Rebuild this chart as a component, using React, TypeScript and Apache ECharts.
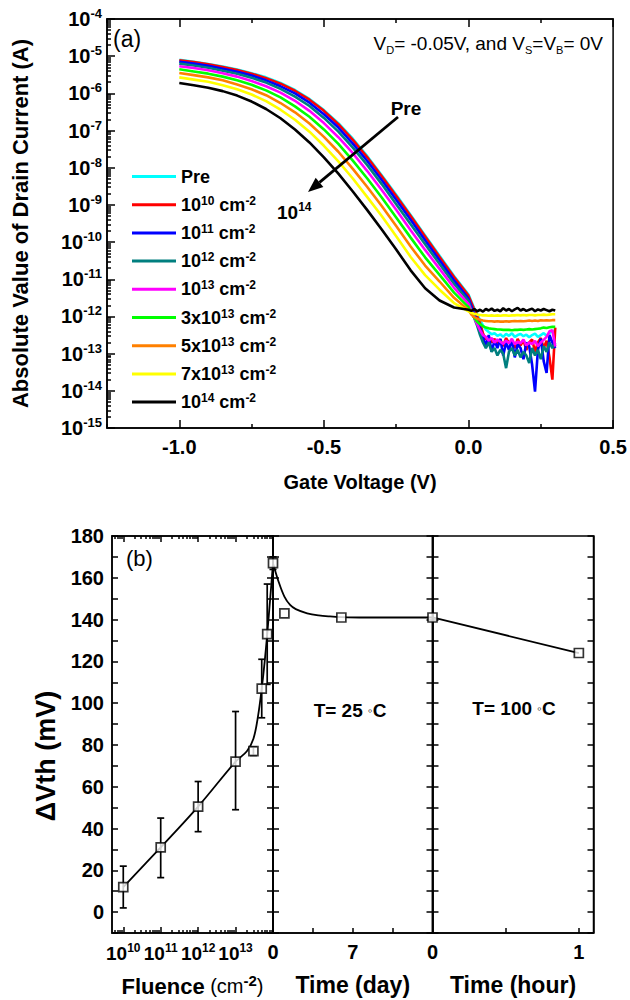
import React, { useEffect, useRef } from 'react';
import * as echarts from 'echarts';

const FONT = '"Liberation Sans", Arial, Helvetica, sans-serif';

// ---------- Panel (a): drain current vs gate voltage ----------
const gateVoltage = [
  -1.0, -0.95, -0.9, -0.85, -0.8, -0.75, -0.7, -0.65, -0.6, -0.55, -0.5, -0.45, -0.4, -0.35, -0.3, -0.25, -0.2, -0.15, -0.1, -0.05, 0.0,
  0.01, 0.02, 0.03, 0.04, 0.05, 0.06, 0.07, 0.08, 0.09, 0.1, 0.11, 0.12, 0.13, 0.14, 0.15, 0.16, 0.17, 0.18, 0.19, 0.2,
  0.21, 0.22, 0.23, 0.24, 0.25, 0.26, 0.27, 0.28, 0.29, 0.3,
];

// log10 of |Id| (A)
const logPre = [
  -5.10, -5.15, -5.21, -5.28, -5.36, -5.46, -5.57, -5.72, -5.91, -6.15, -6.45, -6.80, -7.22, -7.69, -8.20, -8.73, -9.27, -9.82, -10.37, -10.91, -11.41,
  -11.60, -11.78, -11.95, -12.10, -12.24, -12.35, -12.42, -12.48, -12.45, -12.52, -12.48, -12.55, -12.47, -12.52, -12.45, -12.55, -12.50, -12.47, -12.53, -12.49,
  -12.56, -12.50, -12.46, -12.55, -12.50, -12.45, -12.52, -12.44, -12.40, -12.38,
];
const logE10 = [
  -5.11, -5.16, -5.22, -5.29, -5.37, -5.47, -5.59, -5.74, -5.93, -6.17, -6.47, -6.83, -7.25, -7.72, -8.23, -8.76, -9.30, -9.85, -10.40, -10.94, -11.44,
  -11.63, -11.82, -12.00, -12.18, -12.45, -12.62, -12.55, -12.70, -12.60, -12.75, -12.62, -12.80, -12.58, -12.72, -12.66, -12.85, -12.60, -12.78, -12.64, -12.90,
  -12.70, -12.62, -12.95, -12.70, -12.58, -12.85, -12.65, -13.10, -13.70, -12.30,
];
const logE11 = [
  -5.15, -5.20, -5.26, -5.34, -5.42, -5.52, -5.65, -5.81, -6.00, -6.25, -6.56, -6.92, -7.35, -7.82, -8.33, -8.86, -9.40, -9.95, -10.49, -11.03, -11.52,
  -11.72, -11.92, -12.10, -12.30, -12.55, -12.80, -12.50, -12.95, -12.65, -12.85, -12.60, -13.05, -12.70, -12.90, -12.62, -13.10, -12.75, -12.85, -13.15, -12.70,
  -12.80, -13.30, -14.02, -12.90, -12.60, -13.20, -13.52, -12.50, -12.70, -12.85,
];
const logE12 = [
  -5.20, -5.25, -5.31, -5.39, -5.47, -5.58, -5.71, -5.88, -6.09, -6.34, -6.66, -7.03, -7.46, -7.93, -8.44, -8.98, -9.52, -10.06, -10.59, -11.12, -11.58,
  -11.82, -12.04, -12.25, -12.50, -12.70, -12.85, -12.70, -12.95, -12.85, -13.05, -12.90, -13.00, -13.39, -12.95, -12.85, -13.05, -12.90, -13.10, -12.95, -13.05,
  -13.25, -12.85, -13.05, -12.90, -13.15, -12.80, -12.95, -12.70, -12.85, -12.70,
];
const logE13 = [
  -5.27, -5.32, -5.38, -5.46, -5.55, -5.67, -5.81, -5.98, -6.20, -6.47, -6.80, -7.18, -7.61, -8.09, -8.60, -9.13, -9.68, -10.21, -10.72, -11.23, -11.66,
  -11.86, -12.04, -12.21, -12.37, -12.50, -12.55, -12.65, -12.58, -12.70, -12.62, -12.68, -12.74, -12.65, -12.72, -12.60, -12.75, -12.68, -12.72, -12.62, -12.78,
  -12.70, -12.74, -12.66, -12.80, -12.70, -12.63, -12.55, -12.40, -12.37, -12.81,
];
const log3E13 = [
  -5.35, -5.41, -5.47, -5.55, -5.65, -5.77, -5.92, -6.11, -6.35, -6.63, -6.97, -7.36, -7.81, -8.29, -8.80, -9.34, -9.88, -10.41, -10.88, -11.36, -11.75,
  -11.91, -12.04, -12.14, -12.21, -12.26, -12.30, -12.32, -12.33, -12.34, -12.35, -12.35, -12.36, -12.36, -12.36, -12.37, -12.36, -12.36, -12.35, -12.36, -12.35,
  -12.34, -12.35, -12.34, -12.33, -12.32, -12.30, -12.31, -12.29, -12.28, -12.28,
];
const log5E13 = [
  -5.45, -5.51, -5.57, -5.65, -5.76, -5.89, -6.05, -6.26, -6.51, -6.81, -7.17, -7.57, -8.03, -8.52, -9.03, -9.57, -10.12, -10.63, -11.06, -11.50, -11.83,
  -11.95, -12.02, -12.06, -12.09, -12.11, -12.12, -12.13, -12.13, -12.14, -12.13, -12.14, -12.14, -12.13, -12.14, -12.13, -12.12, -12.13, -12.12, -12.13, -12.12,
  -12.11, -12.12, -12.11, -12.12, -12.10, -12.11, -12.10, -12.11, -12.10, -12.10,
];
const log7E13 = [
  -5.57, -5.63, -5.69, -5.78, -5.89, -6.03, -6.21, -6.44, -6.71, -7.03, -7.41, -7.83, -8.29, -8.79, -9.30, -9.84, -10.40, -10.89, -11.28, -11.64, -11.86,
  -11.90, -11.93, -11.95, -11.96, -11.97, -11.97, -11.98, -11.97, -11.98, -11.97, -11.98, -11.97, -11.97, -11.98, -11.97, -11.97, -11.96, -11.97, -11.96, -11.97,
  -11.96, -11.96, -11.97, -11.96, -11.96, -11.95, -11.96, -11.95, -11.94, -11.94,
];
const logE14 = [
  -5.72, -5.78, -5.85, -5.94, -6.06, -6.22, -6.42, -6.67, -6.97, -7.32, -7.72, -8.16, -8.64, -9.14, -9.66, -10.20, -10.76, -11.24, -11.57, -11.76, -11.82,
  -11.85, -11.80, -11.86, -11.82, -11.87, -11.80, -11.84, -11.79, -11.85, -11.82, -11.86, -11.78, -11.84, -11.80, -11.86, -11.81, -11.77, -11.84, -11.80, -11.85,
  -11.82, -11.79, -11.86, -11.81, -11.84, -11.80, -11.83, -11.86, -11.82, -11.84,
];

const curveNames = ['Pre', '1E10', '1E11', '1E12', '1E13', '3E13', '5E13', '7E13', '1E14'];
const curveLogs = [logPre, logE10, logE11, logE12, logE13, log3E13, log5E13, log7E13, logE14];
const curveColors = ['#00FFFF', '#FF0000', '#0000FF', '#007F7F', '#FF00FF', '#00FF00', '#FF8000', '#FFFF00', '#000000'];
const legendLabels = [
  '{b|Pre}',
  '{b|10}{s|10}{b| cm}{s|-2}',
  '{b|10}{s|11}{b| cm}{s|-2}',
  '{b|10}{s|12}{b| cm}{s|-2}',
  '{b|10}{s|13}{b| cm}{s|-2}',
  '{b|3x10}{s|13}{b| cm}{s|-2}',
  '{b|5x10}{s|13}{b| cm}{s|-2}',
  '{b|7x10}{s|13}{b| cm}{s|-2}',
  '{b|10}{s|14}{b| cm}{s|-2}',
];
const currentDecades = [1e-15, 1e-14, 1e-13, 1e-12, 1e-11, 1e-10, 1e-9, 1e-8, 1e-7, 1e-6, 1e-5, 1e-4];
const gateTickLabels = [-1.0, -0.5, 0.0, 0.5];
const gateMinorTicks = [-1.25, -0.75, -0.25, 0.25];

// ---------- Panel (b): threshold voltage shift ----------
const fluence = [1e10, 1e11, 1e12, 1e13, 3e13, 5e13, 7e13, 1e14];
const dVthFluence = [12, 31, 50.5, 72, 77, 107, 133, 167];
const dVthErrLow = [2, 16.5, 38.5, 49, 75, 93, 109, 164];
const dVthErrHigh = [22, 45, 62.5, 96, 79, 121, 157, 170];
const fitFluence = [1e10, 1e11, 1e12, 1e13, 2e13, 3e13, 4e13, 5e13, 6e13, 7e13, 8.5e13, 1e14];
const fitFluenceDVth = [12, 31, 50.5, 72, 77, 83, 94, 107, 120, 133, 151, 167];
const annealDays = [1, 6, 14];
const dVthDays = [143, 141, 141];
const fitDays = [0, 0.5, 1, 1.5, 2, 3, 4, 5, 6, 8, 10, 14];
const fitDaysDVth = [167, 158, 151, 147, 145, 143, 142, 141.5, 141.2, 141, 141, 141];
const annealHours = [0, 1];
const dVthHours = [141, 124];
const fluenceDecades = [1e10, 1e11, 1e12, 1e13, 1e14];
const fluenceLabelValues = [1e10, 1e11, 1e12, 1e13];
const dayLabels = [0, 7];
const dayTicks = [3.5, 7, 10.5];
const hourLabels = [0, 1];
const hourTicks = [0.5, 1];

function minorLogTicks(decades: number[], lo: number, hi: number) {
  const out: number[] = [];
  const all = [decades[0] / 10, ...decades];
  all.forEach((d) => {
    for (let k = 2; k <= 9; k++) {
      const v = k * d;
      if (v > lo && v < hi) out.push(v);
    }
  });
  return out;
}

const AX = { color: '#000', width: 1.5 };
const bold = (size: number) => ({ fontFamily: FONT, fontWeight: 'bold' as const, fontSize: size, color: '#000' });

export default function App() {
  const ref = useRef<HTMLDivElement>(null);
  useEffect(() => {
    if (!ref.current) return;
    const chart = echarts.init(ref.current, undefined, { renderer: 'svg' });

    const supRich = (base: number, sup: number, lh: number) => ({
      b: { ...bold(base), lineHeight: lh },
      s: { ...bold(sup), lineHeight: sup + 1, verticalAlign: 'top' },
      r: { fontFamily: FONT, fontSize: base - 2, color: '#000', lineHeight: lh },
    });

    const fluenceMinor = minorLogTicks(fluenceDecades, 5.0e9, 1e14);
    const currentMinor = minorLogTicks(currentDecades, 1e-15, 1e-4);

    const baseX = (grid: number, extra: any) => ({
      gridIndex: grid,
      splitLine: { show: false },
      axisLine: { show: false, onZero: false, lineStyle: AX },
      axisLabel: { show: false },
      ...extra,
    });
    const line = { show: true, onZero: false, lineStyle: AX };

    const xAxis: any[] = [
      baseX(0, {
        type: 'value', min: -1.25, max: 0.5, position: 'bottom',
        axisLine: line,
        axisTick: { inside: true, length: 8, customValues: gateTickLabels, lineStyle: AX },
        axisLabel: {
          show: true, customValues: gateTickLabels, margin: 9,
          formatter: (v: number) => v.toFixed(1), ...bold(20),
        },
        name: 'Gate Voltage (V)', nameLocation: 'middle', nameGap: 44, nameTextStyle: bold(20),
      }),
      baseX(0, {
        type: 'value', min: -1.25, max: 0.5, position: 'bottom',
        axisTick: { inside: true, length: 4, customValues: gateMinorTicks, lineStyle: AX },
      }),
      baseX(0, {
        type: 'value', min: -1.25, max: 0.5, position: 'top',
        axisLine: line,
        axisTick: { inside: true, length: 8, customValues: gateTickLabels, lineStyle: AX },
      }),
      baseX(0, {
        type: 'value', min: -1.25, max: 0.5, position: 'top',
        axisTick: { inside: true, length: 4, customValues: gateMinorTicks, lineStyle: AX },
      }),
      baseX(1, {
        type: 'log', logBase: 10, min: 5.0e9, max: 1e14, position: 'bottom',
        axisLine: line,
        axisTick: { inside: true, length: 6, customValues: fluenceDecades, lineStyle: AX },
        axisLabel: {
          show: true, customValues: fluenceLabelValues, margin: 9,
          formatter: (v: number) => `{b|10}{s|${Math.round(Math.log10(v))}}`,
          rich: supRich(19, 12, 22),
        },
        name: '{b|Fluence}{r| (cm}{s|-2}{r|)}', nameLocation: 'middle', nameGap: 40,
        nameTextStyle: { rich: { b: { ...bold(22), lineHeight: 26 }, r: { fontFamily: FONT, fontSize: 20, color: '#000', lineHeight: 26 }, s: { ...bold(15), lineHeight: 14, verticalAlign: 'top' } } },
      }),
      baseX(1, {
        type: 'log', logBase: 10, min: 5.0e9, max: 1e14, position: 'bottom',
        axisTick: { inside: true, length: 3, customValues: fluenceMinor, lineStyle: AX },
      }),
      baseX(1, {
        type: 'log', logBase: 10, min: 5.0e9, max: 1e14, position: 'top',
        axisLine: line,
        axisTick: { inside: true, length: 6, customValues: fluenceDecades, lineStyle: AX },
      }),
      baseX(1, {
        type: 'log', logBase: 10, min: 5.0e9, max: 1e14, position: 'top',
        axisTick: { inside: true, length: 3, customValues: fluenceMinor, lineStyle: AX },
      }),
      baseX(2, {
        type: 'value', min: 0, max: 14, position: 'bottom',
        axisLine: line,
        axisTick: { inside: true, length: 5, customValues: dayTicks, lineStyle: AX },
        axisLabel: { show: true, customValues: dayLabels, margin: 9, showMinLabel: true, ...bold(20) },
        name: 'Time (day)', nameLocation: 'middle', nameGap: 40, nameTextStyle: bold(23),
      }),
      baseX(3, {
        type: 'value', min: 0, max: 1.1, position: 'bottom',
        axisLine: line,
        axisTick: { inside: true, length: 5, customValues: hourTicks, lineStyle: AX },
        axisLabel: { show: true, customValues: hourLabels, margin: 9, showMinLabel: true, ...bold(20) },
        name: 'Time (hour)', nameLocation: 'middle', nameGap: 40, nameTextStyle: bold(23),
      }),
    ];

    const dv = (grid: number, pos: 'left' | 'right', labels: boolean) => ({
      gridIndex: grid, type: 'value', min: -10, max: 180, interval: 10, position: pos,
      splitLine: { show: false },
      axisLine: line,
      axisTick: { inside: true, length: 6, lineStyle: AX },
      axisLabel: labels
        ? { show: true, margin: 8, ...bold(20), formatter: (v: number) => (v >= 0 && v % 20 === 0 ? String(v) : '') }
        : { show: false },
    });

    const yAxis: any[] = [
      {
        gridIndex: 0, type: 'log', logBase: 10, min: 1e-15, max: 1e-4, position: 'left',
        splitLine: { show: false },
        axisLine: line,
        axisTick: { inside: true, length: 8, customValues: currentDecades, lineStyle: AX },
        axisLabel: {
          show: true, customValues: currentDecades, margin: 5,
          formatter: (v: number) => `{b|10}{s|${Math.round(Math.log10(v))}}`,
          rich: supRich(20, 13, 24),
        },
        name: 'Absolute Value of Drain Current (A)', nameLocation: 'middle', nameGap: 76,
        nameTextStyle: bold(22),
      },
      {
        gridIndex: 0, type: 'log', logBase: 10, min: 1e-15, max: 1e-4, position: 'left',
        splitLine: { show: false }, axisLine: { show: false, onZero: false }, axisLabel: { show: false },
        axisTick: { inside: true, length: 4, customValues: currentMinor, lineStyle: AX },
      },
      dv(1, 'left', true),
      dv(1, 'right', false),
      dv(2, 'left', false),
      dv(2, 'right', false),
      dv(3, 'left', false),
      dv(3, 'right', false),
    ];

    const squareStyle = { color: '#fff', borderColor: '#000', borderWidth: 1.7 };

    const series: any[] = curveNames.map((name, i) => ({
      type: 'line', name, xAxisIndex: 0, yAxisIndex: 0,
      data: gateVoltage.map((v, j) => [v, Math.pow(10, curveLogs[i][j])]),
      symbol: 'none', showSymbol: false,
      lineStyle: { color: curveColors[i], width: 2.6 },
      itemStyle: { color: curveColors[i] },
      z: 2 + i,
    }));

    series.push(
      {
        type: 'custom', name: 'errFluence', xAxisIndex: 4, yAxisIndex: 2,
        data: fluence.map((f, i) => [f, dVthErrLow[i], dVthErrHigh[i]]),
        encode: { x: 0, y: [1, 2] }, clip: false, z: 3,
        renderItem: (_p: any, api: any) => {
          const x = api.value(0);
          const lo = api.coord([x, api.value(1)]);
          const hi = api.coord([x, api.value(2)]);
          const w = 3.5;
          const st = { stroke: '#000', lineWidth: 1.7 };
          return {
            type: 'group',
            children: [
              { type: 'line', shape: { x1: lo[0], y1: lo[1], x2: hi[0], y2: hi[1] }, style: st },
              { type: 'line', shape: { x1: lo[0] - w, y1: lo[1], x2: lo[0] + w, y2: lo[1] }, style: st },
              { type: 'line', shape: { x1: hi[0] - w, y1: hi[1], x2: hi[0] + w, y2: hi[1] }, style: st },
            ],
          };
        },
      },
      {
        type: 'line', name: 'fitFluence', xAxisIndex: 4, yAxisIndex: 2,
        data: fitFluence.map((f, i) => [f, fitFluenceDVth[i]]),
        smooth: 0.35, symbol: 'none', lineStyle: { color: '#000', width: 1.8 }, z: 3, clip: false,
      },
      {
        type: 'scatter', name: 'dVthFluence', xAxisIndex: 4, yAxisIndex: 2,
        data: fluence.map((f, i) => [f, dVthFluence[i]]),
        symbol: 'rect', symbolSize: 9, itemStyle: squareStyle, clip: false, z: 6,
      },
      {
        type: 'line', name: 'fitDays', xAxisIndex: 8, yAxisIndex: 4,
        data: fitDays.map((d, i) => [d, fitDaysDVth[i]]),
        smooth: 0.35, symbol: 'none', lineStyle: { color: '#000', width: 1.8 }, z: 3, clip: false,
      },
      {
        type: 'scatter', name: 'dVthDays', xAxisIndex: 8, yAxisIndex: 4,
        data: annealDays.map((d, i) => [d, dVthDays[i]]),
        symbol: 'rect', symbolSize: 9, itemStyle: squareStyle, clip: false, z: 6,
      },
      {
        type: 'line', name: 'lineHours', xAxisIndex: 9, yAxisIndex: 6,
        data: annealHours.map((h, i) => [h, dVthHours[i]]),
        symbol: 'none', lineStyle: { color: '#000', width: 1.8 }, z: 3,
      },
      {
        type: 'scatter', name: 'dVthHours', xAxisIndex: 9, yAxisIndex: 6,
        data: annealHours.slice(1).map((h, i) => [h, dVthHours[i + 1]]),
        symbol: 'rect', symbolSize: 9, itemStyle: squareStyle, clip: false, z: 6,
      },
    );

    const tail = [398, 117];
    const tip = [308, 192];
    const dx = tip[0] - tail[0], dy = tip[1] - tail[1];
    const len = Math.hypot(dx, dy);
    const ux = dx / len, uy = dy / len;
    const headL = 15, headW = 6;
    const bx = tip[0] - ux * headL, by = tip[1] - uy * headL;

    const txt = (x: number, y: number, text: string, style: any, extra: any = {}) => ({
      type: 'text', x, y, z: 100, ...extra,
      style: { text, fill: '#000', fontFamily: FONT, textAlign: 'left', textVerticalAlign: 'middle', align: 'left', verticalAlign: 'middle', ...style },
    });

    const option: any = {
      animation: false,
      backgroundColor: '#fff',
      grid: [
        { left: 107, top: 19, width: 508, height: 409, show: true, borderColor: '#000', borderWidth: 1.5, backgroundColor: 'transparent' },
        { left: 112, top: 536, width: 161, height: 397, show: true, borderColor: '#000', borderWidth: 1.5, backgroundColor: 'transparent' },
        { left: 273, top: 536, width: 159.5, height: 397, show: true, borderColor: '#000', borderWidth: 1.5, backgroundColor: 'transparent' },
        { left: 432.5, top: 536, width: 161, height: 397, show: true, borderColor: '#000', borderWidth: 1.5, backgroundColor: 'transparent' },
      ],
      xAxis,
      yAxis,
      legend: {
        data: curveNames, orient: 'vertical', left: 127, top: 161.5,
        icon: 'rect', itemWidth: 44, itemHeight: 3, itemGap: 8.2,
        formatter: (name: string) => legendLabels[curveNames.indexOf(name)],
        textStyle: { ...bold(18), lineHeight: 20, rich: { b: { ...bold(18), lineHeight: 20 }, s: { ...bold(12), lineHeight: 12, verticalAlign: 'top' } } },
        selectedMode: false,
      },
      graphic: [
        txt(113, 39, '(a)', { fontSize: 23 }),
        txt(603, 43, 'V{sub|D}= -0.05V, and V{sub|S}=V{sub|B}= 0V', {
          fontSize: 19, textAlign: 'right', align: 'right',
          rich: {
            sub: { fontFamily: FONT, fontSize: 11, lineHeight: 10, verticalAlign: 'bottom', fill: '#000', color: '#000' },
          },
          lineHeight: 24,
        }),
        txt(406, 108, 'Pre', { fontSize: 19, fontWeight: 'bold', textAlign: 'center', align: 'center' }),
        {
          type: 'line', z: 100,
          shape: { x1: tail[0], y1: tail[1], x2: bx, y2: by },
          style: { stroke: '#000', lineWidth: 2.8 },
        },
        {
          type: 'polygon', z: 100,
          shape: { points: [[tip[0], tip[1]], [bx + uy * headW, by - ux * headW], [bx - uy * headW, by + ux * headW]] },
          style: { fill: '#000' },
        },
        txt(277, 212, '{b|10}{s|14}', {
          rich: {
            b: { fontFamily: FONT, fontWeight: 'bold', fontSize: 19, lineHeight: 22, fill: '#000', color: '#000' },
            s: { fontFamily: FONT, fontWeight: 'bold', fontSize: 12, lineHeight: 12, verticalAlign: 'top', fill: '#000', color: '#000' },
          },
        }),
        txt(126, 558, '(b)', { fontSize: 22 }),
        txt(350, 710, 'T= 25 {d|◦}C', {
          fontSize: 19, fontWeight: 'bold', textAlign: 'center', align: 'center',
          rich: { d: { fontFamily: FONT, fontSize: 13, fill: '#000', color: '#000' } },
        }),
        txt(514, 708, 'T= 100 {d|◦}C', {
          fontSize: 19, fontWeight: 'bold', textAlign: 'center', align: 'center',
          rich: { d: { fontFamily: FONT, fontSize: 13, fill: '#000', color: '#000' } },
        }),
        txt(46, 756, 'ΔVth (mV)', { fontSize: 27, fontWeight: 'bold', textAlign: 'center', align: 'center' }, { rotation: Math.PI / 2 }),
      ],
      series,
    };

    chart.setOption(option);
    return () => chart.dispose();
  }, []);

  return <div ref={ref} style={{ position: 'absolute', left: 0, top: 0, width: 630, height: 1000 }} />;
}
